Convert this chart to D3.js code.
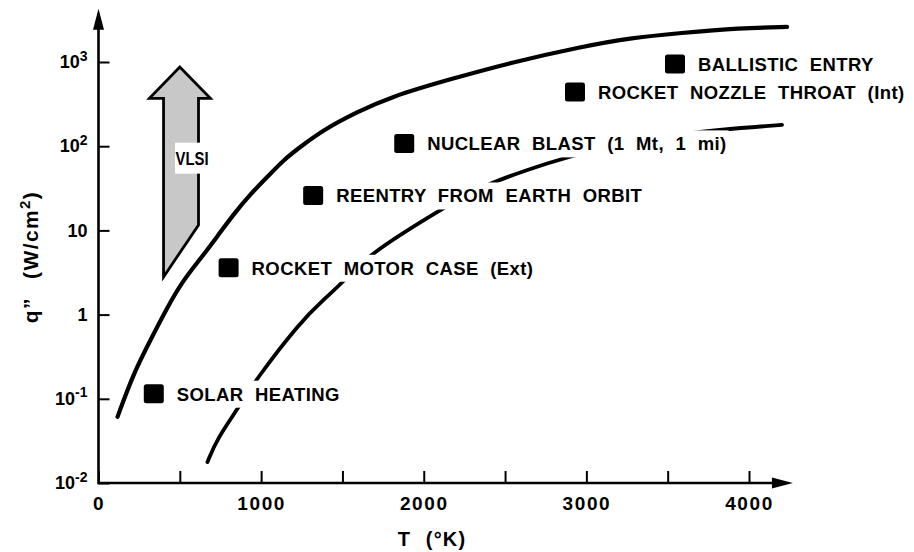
<!DOCTYPE html>
<html>
<head>
<meta charset="utf-8">
<script src="https://cdn.jsdelivr.net/npm/d3@7"></script>
<style>
  html, body { margin: 0; padding: 0; background: #fff; }
  svg { display: block; }
  text { font-family: "Liberation Sans", Arial, Helvetica, sans-serif; font-weight: bold; fill: #000; }
</style>
</head>
<body>
<svg id="chart" width="914" height="552"></svg>
<script>
// Heat-flux environments: q'' (W/cm^2) versus temperature T (K)
const xTickValues = [0, 500, 1000, 1500, 2000, 2500, 3000, 3500, 4000];
const xTickLabels = ["0", "", "1000", "", "2000", "", "3000", "", "4000"];

const yTickValues = [0.01, 0.1, 1, 10, 100, 1000];
const yTickBase = ["10", "10", "1", "10", "10", "10"];
const yTickExp = ["-2", "-1", "", "", "2", "3"];

// Upper boundary curve
const upperT = [117, 215, 320, 424, 522, 627, 731, 830, 934, 1038, 1137, 1241, 1382, 1591, 1794, 2144, 2550, 2962, 3269, 3576, 3945, 4234];
const upperQ = [0.061, 0.20, 0.50, 1.23, 2.58, 4.6, 8.5, 15.5, 27, 43, 68.5, 98, 156, 255, 384, 611, 1000, 1507, 1928, 2209, 2535, 2608];

// Lower boundary curve
const lowerT = [670, 731, 860, 965, 1241, 1382, 1505, 1653, 2120, 2390, 2796, 2980, 3595, 4203];
const lowerQ = [0.0178, 0.034, 0.078, 0.167, 0.82, 1.49, 2.44, 5.1, 18.5, 36.5, 66, 85, 147, 179];

// Application points
const appNames = ["SOLAR HEATING", "ROCKET MOTOR CASE (Ext)", "REENTRY FROM EARTH ORBIT",
                  "NUCLEAR BLAST (1 Mt, 1 mi)", "ROCKET NOZZLE THROAT (Int)", "BALLISTIC ENTRY"];
const appT = [340, 800, 1320, 1880, 2930, 3545];
const appQ = [0.115, 3.6, 26, 108, 440, 950];

// VLSI trend arrow (shaft left/right edges, head corners, tip)
const vlsiShaftT = [400, 615];
const vlsiShaftBottomQ = [2.8, 11.6];
const vlsiHeadT = [313, 500, 688];
const vlsiHeadQ = [370, 870];

// Axis extents beyond the tick range (arrow tips)
const xAxisEnd = 4270;
const yAxisEnd = 4300;

const W = 914;
const svg = d3.select("#chart");

const x = d3.scaleLinear().domain([0, 4000]).range([98.5, 749]);
const y = d3.scaleLog().domain([0.01, 1000]).range([483, 62]);

// ---- axes ----
const xAxis = d3.axisBottom(x)
  .tickValues(xTickValues)
  .tickSizeInner(-12)
  .tickSizeOuter(0)
  .tickPadding(14)
  .tickFormat((d, i) => xTickLabels[i]);

const gx = svg.append("g")
  .attr("transform", `translate(0,${y(0.01)})`)
  .call(xAxis);
gx.select(".domain").remove();
gx.selectAll(".tick line").attr("stroke", "#000").attr("stroke-width", 2);
gx.selectAll(".tick text")
  .attr("font-size", 19)
  .attr("letter-spacing", 1.6)
  .attr("font-family", "Liberation Sans, Arial, sans-serif")
  .attr("font-weight", "bold");

const yAxis = d3.axisLeft(y)
  .tickValues(yTickValues)
  .tickSizeInner(-11)
  .tickSizeOuter(0)
  .tickPadding(11)
  .tickFormat("");

const gy = svg.append("g")
  .attr("transform", `translate(${x(0)},0)`)
  .call(yAxis);
gy.select(".domain").remove();
gy.selectAll(".tick line").attr("stroke", "#000").attr("stroke-width", 2);
gy.selectAll(".tick text").each(function(d, i) {
  const t = d3.select(this)
    .attr("font-size", 18)
    .attr("font-family", "Liberation Sans, Arial, sans-serif")
    .attr("font-weight", "bold");
  t.text(null);
  t.append("tspan").text(yTickBase[i]);
  if (yTickExp[i]) {
    t.append("tspan").attr("font-size", 14).attr("dy", "-0.55em").text(yTickExp[i]);
  }
});

// axis lines with arrow heads
const axisG = svg.append("g");
axisG.append("line")
  .attr("x1", x(0)).attr("x2", x(xAxisEnd) - 12)
  .attr("y1", y(0.01)).attr("y2", y(0.01))
  .attr("stroke", "#000").attr("stroke-width", 2.6);
axisG.append("path")
  .attr("d", `M${x(xAxisEnd)},${y(0.01)} l-21,-5.5 l0,11 z`)
  .attr("fill", "#000");
axisG.append("line")
  .attr("x1", x(0)).attr("x2", x(0))
  .attr("y1", y(0.01) + 1.3).attr("y2", y(yAxisEnd) + 14)
  .attr("stroke", "#000").attr("stroke-width", 2.6);
axisG.append("path")
  .attr("d", `M${x(0)},${y(yAxisEnd)} l-5.5,21 l11,0 z`)
  .attr("fill", "#000");

// axis titles
svg.append("text")
  .attr("x", 432).attr("y", 546)
  .attr("text-anchor", "middle")
  .attr("font-size", 20)
  .attr("letter-spacing", 1.2)
  .attr("word-spacing", 8)
  .text("T (°K)");

const yTitle = svg.append("text")
  .attr("transform", "translate(38,257) rotate(-90)")
  .attr("text-anchor", "middle")
  .attr("font-size", 21)
  .attr("letter-spacing", 1.4)
  .attr("word-spacing", 11);
yTitle.append("tspan").text("q\u201D (W/cm");
yTitle.append("tspan").attr("font-size", 15).attr("dy", "-0.55em").text("2");
yTitle.append("tspan").attr("dy", "0.39em").text(")");

// ---- curves ----
const line = d3.line()
  .x(d => x(d[0]))
  .y(d => y(d[1]))
  .curve(d3.curveBasis);

svg.append("path")
  .datum(lowerT.map((t, i) => [t, lowerQ[i]]))
  .attr("d", line)
  .attr("fill", "none")
  .attr("stroke", "#000")
  .attr("stroke-width", 3.8)
  .attr("stroke-linecap", "round");

// ---- VLSI arrow ----
const vlsiPts = [
  [vlsiShaftT[0], vlsiShaftBottomQ[0]],
  [vlsiShaftT[1], vlsiShaftBottomQ[1]],
  [vlsiShaftT[1], vlsiHeadQ[0]],
  [vlsiHeadT[2], vlsiHeadQ[0]],
  [vlsiHeadT[1], vlsiHeadQ[1]],
  [vlsiHeadT[0], vlsiHeadQ[0]],
  [vlsiShaftT[0], vlsiHeadQ[0]]
];
svg.append("path")
  .attr("d", d3.line().x(d => x(d[0])).y(d => y(d[1])).curve(d3.curveLinearClosed)(vlsiPts))
  .attr("fill", "#c8c8c8")
  .attr("stroke", "#000")
  .attr("stroke-width", 2.8)
  .attr("stroke-linejoin", "miter");

const vlsiCx = x((vlsiShaftT[0] + vlsiShaftT[1]) / 2) + 11;
const vlsiCy = y(Math.sqrt(vlsiShaftBottomQ[1] * vlsiHeadQ[0])) - 3;
svg.append("rect")
  .attr("x", vlsiCx - 17).attr("y", vlsiCy - 16)
  .attr("width", 35).attr("height", 31)
  .attr("fill", "#fff");
svg.append("text")
  .attr("x", vlsiCx).attr("y", vlsiCy + 6.5)
  .attr("text-anchor", "middle")
  .attr("font-size", 18)
  .attr("textLength", 33)
  .attr("lengthAdjust", "spacingAndGlyphs")
  .text("VLSI");

// ---- application points and labels ----
const apps = appNames.map((name, i) => ({ name, t: appT[i], q: appQ[i] }));
const appG = svg.append("g");
const groups = appG.selectAll("g").data(apps).join("g");

groups.each(function(d) {
  const g = d3.select(this);
  const cx = x(d.t), cy = y(d.q);
  const bg = g.append("rect").attr("fill", "#fff");
  const label = g.append("text")
    .attr("x", cx + 23)
    .attr("y", cy + 7)
    .attr("font-size", 18.5)
    .attr("letter-spacing", 0.4)
    .attr("word-spacing", 6)
    .text(d.name);
  let bb = label.node().getBBox();
  // keep long labels inside the drawing area
  const maxRight = W - 6;
  if (bb.x + bb.width > maxRight) {
    label.attr("textLength", maxRight - bb.x).attr("lengthAdjust", "spacing");
    bb = label.node().getBBox();
  }
  bg.attr("x", bb.x - 2).attr("y", bb.y - 3)
    .attr("width", bb.width + 4).attr("height", bb.height + 6);
  g.append("rect")
    .attr("x", cx - 10).attr("y", cy - 9.5)
    .attr("width", 20).attr("height", 19)
    .attr("rx", 2.5)
    .attr("fill", "#000");
});

// upper curve drawn above label backgrounds
svg.append("path")
  .datum(upperT.map((t, i) => [t, upperQ[i]]))
  .attr("d", line)
  .attr("fill", "none")
  .attr("stroke", "#000")
  .attr("stroke-width", 4.2)
  .attr("stroke-linecap", "round");
</script>
</body>
</html>
